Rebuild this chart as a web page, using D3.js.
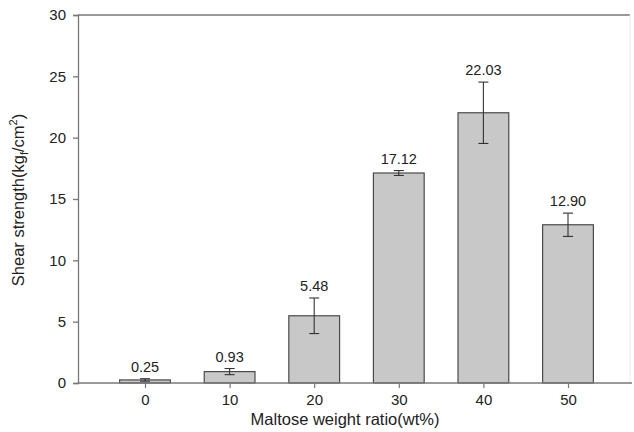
<!DOCTYPE html>
<html><head><meta charset="utf-8">
<script src="https://cdn.jsdelivr.net/npm/d3@7"></script>
<style>body{margin:0;background:#fff}svg{display:block}text{font-family:Arial,"Liberation Sans",sans-serif}</style>
</head><body>
<svg id="c" width="634" height="432"></svg>
<script>
const categories = ["0","10","20","30","40","50"];
const values = [0.25, 0.93, 5.48, 17.12, 22.03, 12.90];
const errors = [0.1, 0.25, 1.45, 0.2, 2.5, 0.95];
const valueLabels = ["0.25","0.93","5.48","17.12","22.03","12.90"];
const yTicks = [0,5,10,15,20,25,30];

const svg = d3.select("#c");
const L = 78, R = 630, T = 15, B = 383;
const x = d3.scalePoint().domain(categories).range([145, 568]);
const step = x.step();
const bw = step * 0.6;
const y = d3.scaleLinear().domain([0,30]).range([B, T]);
const axisCol = "#777";

// frame
svg.append("line").attr("x1",L).attr("x2",R).attr("y1",T).attr("y2",T).attr("stroke",axisCol).attr("stroke-width",1.3);
svg.append("line").attr("x1",R).attr("x2",R).attr("y1",T).attr("y2",B).attr("stroke","#ececec").attr("stroke-width",1);

// bars
svg.selectAll("rect.bar").data(values).enter().append("rect")
  .attr("x",(d,i)=>x(categories[i]) - bw/2)
  .attr("y",d=>y(d))
  .attr("width",bw)
  .attr("height",d=>B - y(d))
  .attr("fill","#c8c8c8").attr("stroke","#4a4a4a").attr("stroke-width",1.2);

// error bars
const eg = svg.append("g").attr("stroke","#333").attr("stroke-width",1.1);
values.forEach((v,i)=>{
  const cx = x(categories[i]);
  const hi = y(v+errors[i]), lo = y(v-errors[i]);
  eg.append("line").attr("x1",cx).attr("x2",cx).attr("y1",hi).attr("y2",lo);
  eg.append("line").attr("x1",cx-5).attr("x2",cx+5).attr("y1",hi).attr("y2",hi);
  eg.append("line").attr("x1",cx-5).attr("x2",cx+5).attr("y1",lo).attr("y2",lo);
});

// value labels
svg.selectAll("text.vl").data(values).enter().append("text")
  .attr("x",(d,i)=>x(categories[i]))
  .attr("y",(d,i)=>y(d+errors[i]) - 7)
  .attr("text-anchor","middle").attr("font-size",14.5).attr("fill","#222")
  .text((d,i)=>valueLabels[i]);

// y axis
const ya = svg.append("g").attr("transform",`translate(${L},0)`)
  .call(d3.axisLeft(y).tickValues(yTicks).tickSize(5).tickPadding(7).tickFormat(d3.format("d")));
ya.selectAll("path,line").attr("stroke",axisCol).attr("stroke-width",1.3);
ya.selectAll("text").attr("font-size",15).attr("fill","#222").attr("font-family","Arial, 'Liberation Sans', sans-serif");

// x axis
const xa = svg.append("g").attr("transform",`translate(0,${B})`)
  .call(d3.axisBottom(x).tickSize(5).tickPadding(6).tickSizeOuter(0));
xa.select("path").attr("d",`M${L},0H${R+2}`).attr("stroke",axisCol).attr("stroke-width",1.3);
xa.selectAll("line").attr("stroke",axisCol).attr("stroke-width",1.2);
xa.selectAll("text").attr("font-size",15).attr("fill","#222").attr("font-family","Arial, 'Liberation Sans', sans-serif");

// axis titles
svg.append("text").attr("x",345).attr("y",425).attr("text-anchor","middle")
  .attr("font-size",16.5).attr("fill","#222").text("Maltose weight ratio(wt%)");
const yt = svg.append("text").attr("transform","translate(24,200) rotate(-90)")
  .attr("text-anchor","middle").attr("font-size",16.5).attr("fill","#222");
yt.append("tspan").text("Shear strength(kg");
yt.append("tspan").attr("font-size",11).attr("dy",4).text("f");
yt.append("tspan").attr("dy",-4).text("/cm");
yt.append("tspan").attr("font-size",11).attr("dy",-7).text("2");
yt.append("tspan").attr("dy",7).text(")");
</script>
</body></html>
